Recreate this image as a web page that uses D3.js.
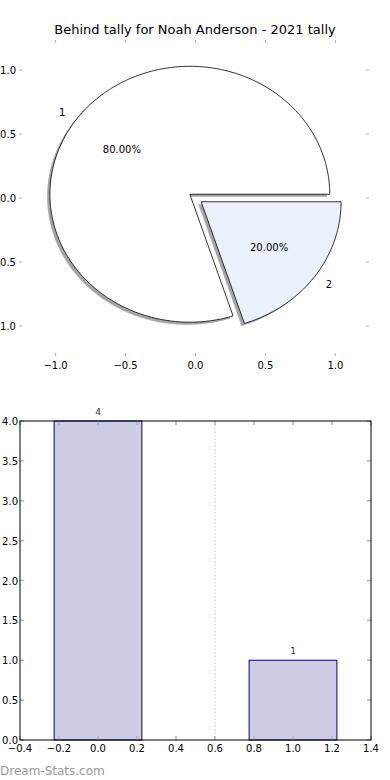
<!DOCTYPE html>
<html>
<head>
<meta charset="utf-8">
<script src="https://cdn.jsdelivr.net/npm/d3@7"></script>
<style>
  body { margin: 0; background: #fff; }
  svg { display: block; font-family: "DejaVu Sans", sans-serif; }
</style>
</head>
<body>
<svg id="chart" width="390" height="780"></svg>
<script>
// pie data
const pieLabels = ['1', '2']
const pieValues = [4, 1]
const pieColors = ['#ffffff', '#eaf0fc']
const pieTicks = [-1.0, -0.5, 0.0, 0.5, 1.0]

// bar data
const barCats = [0, 1]
const barValues = [4, 1]
const barXTicks = [-0.4, -0.2, 0.0, 0.2, 0.4, 0.6, 0.8, 1.0, 1.2, 1.4]
const barYTicks = [0.0, 0.5, 1.0, 1.5, 2.0, 2.5, 3.0, 3.5, 4.0]

const svg = d3.select('#chart')
const fmt = d3.format('.1f')
const minus = (v) => fmt(v).replace('-', '\u2212')

// ---- pie ----
var pie = { left: 22, right: 369, top: 40, bottom: 356 }
var px = d3.scaleLinear().domain([-1.24, 1.24]).range([pie.left, pie.right])
var py = d3.scaleLinear().domain([-1.235, 1.235]).range([pie.bottom, pie.top])

svg.append('text')
  .attr('x', 195).attr('y', 34)
  .attr('text-anchor', 'middle')
  .style('font-size', '13px')
  .text('Behind tally for Noah Anderson - 2021 tally')

var tickCol = '#b4b4b4'
var pg = svg.append('g')
pieTicks.forEach(function(t) {
  pg.append('line').attr('x1', px(t)).attr('x2', px(t)).attr('y1', pie.top).attr('y2', pie.top + 3).attr('stroke', tickCol)
  pg.append('line').attr('x1', px(t)).attr('x2', px(t)).attr('y1', pie.bottom).attr('y2', pie.bottom - 3).attr('stroke', tickCol)
  pg.append('line').attr('y1', py(t)).attr('y2', py(t)).attr('x1', pie.left).attr('x2', pie.left - 3).attr('stroke', tickCol)
  pg.append('line').attr('y1', py(t)).attr('y2', py(t)).attr('x1', pie.right).attr('x2', pie.right - 3).attr('stroke', tickCol)
  pg.append('text').attr('x', px(t)).attr('y', pie.bottom + 13).attr('text-anchor', 'middle')
    .style('font-size', '10px').text(minus(t))
  pg.append('text').attr('x', pie.left - 6).attr('y', py(t) + 4).attr('text-anchor', 'end')
    .style('font-size', '10px').text(minus(t))
})

var total = d3.sum(pieValues)
var explode = 0.05
var slices = []
var start = 0
pieValues.forEach(function(v, i) {
  var end = start + v / total * 360
  var mid = (start + end) / 2 * Math.PI / 180
  slices.push({ i: i, a0: start, a1: end, mid: mid, ox: explode * Math.cos(mid), oy: explode * Math.sin(mid) })
  start = end
})

function wedgePath(s, dx, dy) {
  var pts = [[s.ox + dx, s.oy + dy]]
  for (var a = s.a0; a <= s.a1 + 1e-9; a += 1) {
    var r = a * Math.PI / 180
    pts.push([s.ox + dx + Math.cos(r), s.oy + dy + Math.sin(r)])
  }
  return d3.line().x((d) => px(d[0])).y((d) => py(d[1]))(pts) + 'Z'
}

// shadows under all wedges
slices.forEach(function(s) {
  pg.append('path').attr('d', wedgePath(s, -0.02, -0.02))
    .attr('fill', 'rgb(77,77,77)').attr('fill-opacity', 0.5)
})
slices.forEach(function(s) {
  pg.append('path').attr('d', wedgePath(s, 0, 0))
    .attr('fill', pieColors[s.i]).attr('stroke', '#000').attr('stroke-width', 0.8)
})
slices.forEach(function(s) {
  var lx = s.ox + 1.1 * Math.cos(s.mid), ly = s.oy + 1.1 * Math.sin(s.mid)
  pg.append('text').attr('x', px(lx)).attr('y', py(ly) + 4)
    .attr('text-anchor', lx < 0 ? 'end' : 'start')
    .style('font-size', '10px').text(pieLabels[s.i])
  var tx = s.ox + 0.6 * Math.cos(s.mid), ty = s.oy + 0.6 * Math.sin(s.mid)
  pg.append('text').attr('x', px(tx)).attr('y', py(ty) + 4)
    .attr('text-anchor', 'middle')
    .style('font-size', '10px').text(d3.format('.2f')(pieValues[s.i] / total * 100) + '%')
})

// ---- bars ----
var bar = { left: 20, right: 371, top: 421, bottom: 740 }
var bx = d3.scaleLinear().domain([-0.4, 1.4]).range([bar.left, bar.right])
var by = d3.scaleLinear().domain([0, 4]).range([bar.bottom, bar.top])
var bg = svg.append('g')

bg.append('line').attr('x1', bx(0.6)).attr('x2', bx(0.6)).attr('y1', bar.top).attr('y2', bar.bottom)
  .attr('stroke', '#c8c8c8').attr('stroke-dasharray', '1.5,2')

var bw = 0.45
bg.selectAll('rect.bar').data(barCats).enter().append('rect')
  .attr('class', 'bar')
  .attr('x', (d) => bx(d - bw / 2))
  .attr('width', (d) => bx(d + bw / 2) - bx(d - bw / 2))
  .attr('y', (d, i) => by(barValues[i]))
  .attr('height', (d, i) => by(0) - by(barValues[i]))
  .attr('fill', '#ccccE5').attr('stroke', '#00008b').attr('stroke-width', 1)

bg.selectAll('text.val').data(barCats).enter().append('text')
  .attr('x', (d) => bx(d))
  .attr('y', (d, i) => by(barValues[i]) - 6)
  .attr('text-anchor', 'middle')
  .style('font-size', '9px').attr('fill', '#2b2b6e')
  .text((d, i) => barValues[i])

barXTicks.forEach(function(t) {
  bg.append('line').attr('x1', bx(t)).attr('x2', bx(t)).attr('y1', bar.bottom).attr('y2', bar.bottom - 4).attr('stroke', tickCol).attr('stroke-width', 1.5)
  bg.append('line').attr('x1', bx(t)).attr('x2', bx(t)).attr('y1', bar.top).attr('y2', bar.top + 4).attr('stroke', tickCol).attr('stroke-width', 1.5)
  bg.append('text').attr('x', bx(t)).attr('y', bar.bottom + 12).attr('text-anchor', 'middle')
    .style('font-size', '10px').text(minus(t))
})
barYTicks.forEach(function(t) {
  bg.append('line').attr('y1', by(t)).attr('y2', by(t)).attr('x1', bar.left).attr('x2', bar.left + 4).attr('stroke', tickCol).attr('stroke-width', 1.5)
  bg.append('line').attr('y1', by(t)).attr('y2', by(t)).attr('x1', bar.right).attr('x2', bar.right - 4).attr('stroke', tickCol).attr('stroke-width', 1.5)
  bg.append('text').attr('x', bar.left - 2).attr('y', by(t) + 4).attr('text-anchor', 'end')
    .style('font-size', '10px').text(fmt(t))
})

bg.append('rect').attr('x', bar.left).attr('y', bar.top)
  .attr('width', bar.right - bar.left).attr('height', bar.bottom - bar.top)
  .attr('fill', 'none').attr('stroke', '#000').attr('stroke-width', 1)

svg.append('text').attr('x', 0).attr('y', 775)
  .style('font-size', '12px').attr('fill', '#999999')
  .text('Dream-Stats.com')
</script>
</body>
</html>
